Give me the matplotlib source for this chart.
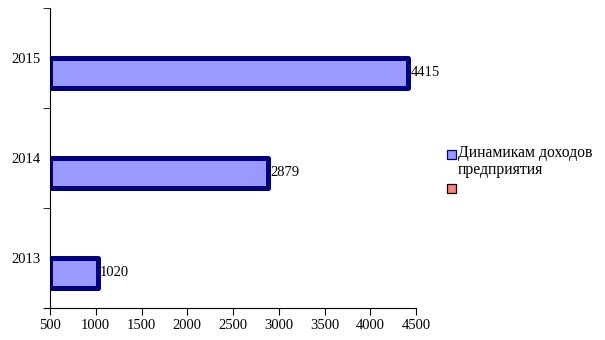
import matplotlib
matplotlib.use("Agg")
import matplotlib.pyplot as plt
from matplotlib.patches import Rectangle

years = ["2013", "2014", "2015"]
values = [1020, 2879, 4415]
series_name = "Динамикам доходов\nпредприятия"
second_name = ""
xticks = [500, 1000, 1500, 2000, 2500, 3000, 3500, 4000, 4500]

W, H = 605, 340
fig = plt.figure(figsize=(6.05, 3.4), dpi=100)
ax = fig.add_axes([50/W, 32/H, 366/W, 300/H])

base = 500
pos = list(range(len(years)))
ax.barh([p - 0.15 for p in pos], [v - base for v in values], left=base, height=0.3,
        color="#9999ff", edgecolor="#000080", linewidth=3.6, capstyle="round", joinstyle="round")
for p, v in zip(pos, values):
    ax.text(v + 25, p - 0.15, str(v), va="center", ha="left",
            fontsize=10.5, family="Liberation Serif")

ax.set_xlim(500, 4500)
ax.set_ylim(-0.5, 2.5)
ax.set_xticks(xticks)
ax.set_xticklabels([str(x) for x in xticks], family="Liberation Serif", fontsize=10.5)
ax.set_yticks(pos)
ax.set_yticklabels(years, family="Liberation Serif", fontsize=10.5)
ax.set_yticks([-0.5, 0.5, 1.5, 2.5], minor=True)
ax.tick_params(axis="y", which="major", length=0, pad=7)
ax.tick_params(axis="y", which="minor", length=5, direction="out")
ax.tick_params(axis="x", length=5, direction="out", pad=3)
for s in ["top", "right"]:
    ax.spines[s].set_visible(False)
ax.spines["bottom"].set_bounds(500 - 6 * 4000/366, 4500)

# legend drawn manually (marker aligned with first text line)
legend_items = [(series_name, "#9999ff", "#000080", 150), (second_name, "#ff8080", "#000000", 184)]
for label, fc, ec, ytop in legend_items:
    fig.patches.append(Rectangle((447/W, 1 - (ytop + 9)/H), 9/W, 9/H, transform=fig.transFigure,
                                 facecolor=fc, edgecolor=ec, linewidth=0.9))
    if label:
        fig.text(458/W, 1 - 145/H, label, ha="left", va="top", family="Liberation Serif",
                 fontsize=11.3, linespacing=1.05)

fig.savefig("out.png", dpi=100, facecolor="white")
